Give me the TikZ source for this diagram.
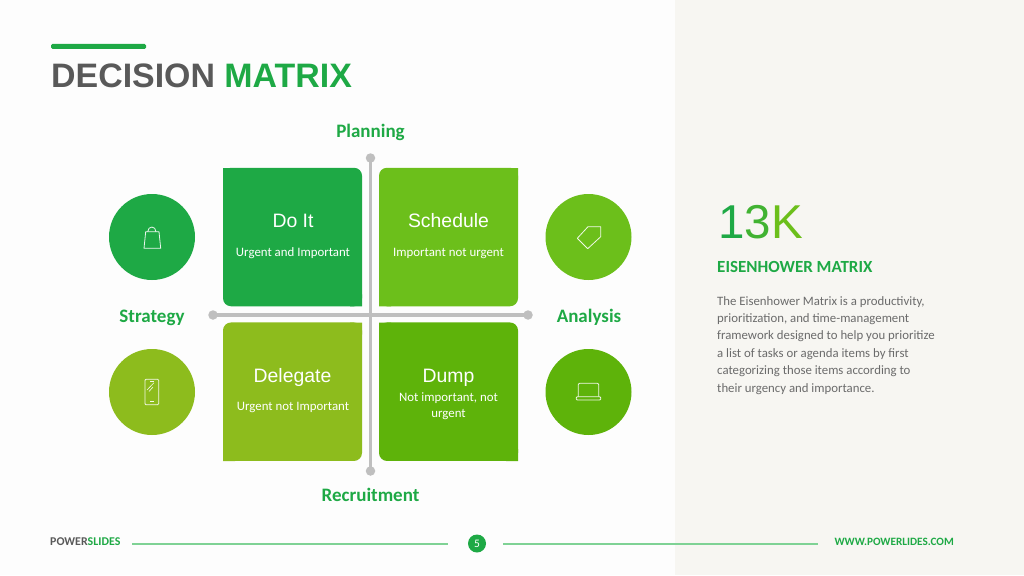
\documentclass[tikz,border=0pt]{standalone}
\usepackage{fontspec}
\setmainfont{Carlito}
\newfontfamily\arialf{Liberation Sans}
\definecolor{bgwhite}{HTML}{FDFDFD}
\definecolor{panel}{HTML}{F7F6F2}
\definecolor{gA}{HTML}{1EA945}
\definecolor{gB}{HTML}{6CBF1B}
\definecolor{gC}{HTML}{8DBC1D}
\definecolor{gD}{HTML}{5EB30A}
\definecolor{greyline}{HTML}{BFBFBF}
\definecolor{titlegrey}{HTML}{595959}
\definecolor{bodygrey}{HTML}{6B6B6B}
\definecolor{footline}{HTML}{7FD295}
\tikzset{
  qbox/.style={rectangle,rounded corners=8pt,inner sep=0pt,minimum width=139pt,minimum height=138.5pt},
  qhead/.style={anchor=base,text=white,font=\arialf\fontsize{19.4}{22}\selectfont,inner sep=0pt},
  qsub/.style={anchor=base,text=white,font=\fontsize{12.85}{16}\selectfont,inner sep=0pt,align=center},
  disc/.style={circle,inner sep=0pt,minimum size=86pt},
  axislabel/.style={anchor=base,text=gA,font=\bfseries\fontsize{19}{22}\selectfont,inner sep=0pt},
  axisdot/.style={circle,fill=greyline,inner sep=0pt,minimum size=9.5pt},
  axisline/.style={draw=greyline,line width=3.6pt},
  icon/.style={draw=white,line width=0.8pt,line join=round,opacity=.9},
  footrule/.style={draw=footline,line width=1.6pt},
}
\begin{document}
\begin{tikzpicture}[x=1pt,y=-1pt]
\useasboundingbox (0,0) rectangle (1024,575);
\fill[bgwhite] (0,0) rectangle (675,575);
\fill[panel] (675,0) rectangle (1024,575);
% title
\fill[gA,rounded corners=1.5pt] (51,44) rectangle (146,49);
\node[anchor=base west,inner sep=0pt,font=\arialf\bfseries\fontsize{33.9}{38}\selectfont,text=titlegrey] (title) at (51,88) {DECISION \textcolor{gA}{MATRIX}};
% quadrants
\node[qbox,fill=gA] (doit) at (292.5,237) {};
\fill[gA] (223,168) rectangle (235,180) (350,294.25) rectangle (362,306.25);
\node[qbox,fill=gB] (sched) at (448.5,237) {};
\fill[gB] (506,168) rectangle (518,180) (379,294.25) rectangle (391,306.25);
\node[qbox,fill=gC] (deleg) at (292.5,391.7) {};
\fill[gC] (350,322.5) rectangle (362,334.5) (223,449) rectangle (235,461);
\node[qbox,fill=gD] (dump) at (448.5,391.7) {};
\fill[gD] (379,322.5) rectangle (391,334.5) (506,449) rectangle (518,461);
% axes
\node[axisdot] (vtop) at (370.5,158) {};
\node[axisdot] (vbot) at (370.5,471) {};
\node[axisdot] (hleft) at (213,315) {};
\node[axisdot] (hright) at (528,315) {};
\draw[axisline] (hleft.center) -- (hright.center);
\draw[axisline] (vtop.center) -- (vbot.center);
% quadrant text
\node[qhead] (t1) at (293,227) {Do It};
\node[qsub] (s1) at (293,256) {Urgent and Important};
\node[qhead] (t2) at (448.5,227) {Schedule};
\node[qsub] (s2) at (448.5,256) {Important not urgent};
\node[qhead] (t3) at (292.5,382) {Delegate};
\node[qsub] (s3) at (293,410.5) {Urgent not Important};
\node[qhead] (t4) at (448.5,382) {Dump};
\node[qsub,anchor=north] (s4) at (448.5,392.5) {Not important, not\\urgent};
% axis labels
\node[axislabel] (l1) at (370.5,137) {Planning};
\node[axislabel] (l2) at (370.5,501) {Recruitment};
\node[axislabel] (l3) at (152,322.5) {Strategy};
\node[axislabel] (l4) at (589,322.5) {Analysis};
% discs
\node[disc,fill=gA] (c1) at (152,237) {};
\node[disc,fill=gB] (c2) at (588.5,237) {};
\node[disc,fill=gC] (c3) at (152,392) {};
\node[disc,fill=gD] (c4) at (588.5,392) {};
% bag
\draw[icon] (145.7,231.7) -- (159,231.7) -- (160.7,248.3) -- (144,248.3) -- cycle;
\draw[icon] (147.7,231.7) .. controls (148,225.5) and (155.7,225.5) .. (156,231.7);
% tag
\draw[icon] (577.3,238.3) -- (588,226.7) -- (600.7,226.7) -- (600.7,236.7) -- (587.7,248.7) -- cycle;
% phone
\draw[icon,rounded corners=1pt] (145,379.3) rectangle (158.7,404.7);
\draw[icon,line width=.6pt] (147,390) -- (154,382.7) (149,391.5) -- (153,387);
\draw[icon,line width=.6pt] (150,381) -- (154,381) (150,401.7) -- (154,401.7);
% laptop
\draw[icon] (578.3,396.7) -- (578.3,384.5) -- (579.5,383.3) -- (597.5,383.3) -- (598.7,384.5) -- (598.7,396.7);
\draw[icon,rounded corners=1pt] (576.3,396.7) rectangle (600.7,400);
% right panel
\node[anchor=base west,inner sep=0pt,font=\arialf\fontsize{47.5}{50}\selectfont] (big) at (718,238) {\textcolor{gA}{1}\textcolor{gA!55!gB}{3}\textcolor{gB}{K}};
\node[anchor=base west,inner sep=0pt,text=gA,font=\bfseries\fontsize{17}{20}\selectfont] (sub) at (717,272.5) {EISENHOWER MATRIX};
\node[anchor=north west,inner sep=0pt,align=left,text=bodygrey,font=\fontsize{12.8}{17.4}\selectfont] (body) at (717,296) {The Eisenhower Matrix is a productivity,\\prioritization, and time-management\\framework designed to help you prioritize\\a list of tasks or agenda items by first\\categorizing those items according to\\their urgency and importance.};
% footer
\node[anchor=base west,inner sep=0pt,font=\bfseries\fontsize{11.9}{14}\selectfont,text=titlegrey] (pw) at (50,545.5) {POWER\textcolor{gA}{SLIDES}};
\node[circle,fill=gA,inner sep=0pt,minimum size=18pt,text=white,font=\fontsize{11.5}{13}\selectfont] (pg) at (477,543.5) {5};
\node[anchor=base east,inner sep=0pt,font=\bfseries\fontsize{11.2}{13}\selectfont,text=gA] (www) at (954,545.5) {WWW.POWERLIDES.COM};
\coordinate (f1) at (132,543.7);
\coordinate (f2) at (448,543.7);
\coordinate (f3) at (503,543.7);
\coordinate (f4) at (818,543.7);
\draw[footrule] (f1) -- (f2);
\draw[footrule] (f3) -- (f4);
\end{tikzpicture}
\end{document}
